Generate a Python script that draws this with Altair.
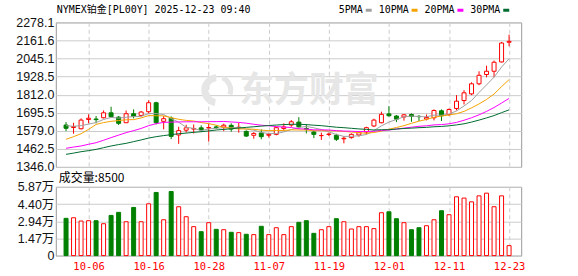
import json
import altair as alt
import pandas as pd
import numpy as np

# ---------------- data ----------------
dates = [d.strftime("%m-%d") for d in pd.bdate_range("2025-10-01", "2025-12-23")]

opens = [1616, 1600, 1592, 1652, 1655, 1663, 1695, 1667, 1631, 1689,
         1678, 1702, 1760, 1640, 1660, 1552, 1583, 1590, 1598, 1597,
         1604, 1603, 1614, 1598, 1575, 1550, 1565, 1550, 1556, 1594,
         1616, 1635, 1594, 1571, 1548, 1555, 1550, 1527, 1535, 1552,
         1571, 1610, 1631, 1688, 1674, 1668, 1684, 1672, 1655, 1663,
         1708, 1684, 1723, 1774, 1817, 1882, 1942, 1963, 2023, 2150]
highs = [1635, 1631, 1659, 1685, 1674, 1710, 1734, 1674, 1710, 1717,
         1706, 1775, 1766, 1674, 1672, 1605, 1618, 1620, 1614, 1625,
         1614, 1625, 1627, 1631, 1582, 1570, 1588, 1567, 1605, 1627,
         1648, 1667, 1620, 1582, 1567, 1567, 1560, 1545, 1562, 1577,
         1605, 1657, 1702, 1738, 1680, 1687, 1691, 1680, 1684, 1717,
         1717, 1723, 1809, 1841, 1892, 1963, 1999, 2032, 2152, 2199]
lows = [1577, 1560, 1588, 1627, 1627, 1659, 1663, 1616, 1629, 1659,
        1670, 1689, 1620, 1588, 1525, 1495, 1567, 1562, 1571, 1510,
        1590, 1577, 1573, 1567, 1539, 1528, 1524, 1535, 1550, 1580,
        1605, 1592, 1562, 1532, 1520, 1545, 1513, 1498, 1528, 1541,
        1556, 1603, 1627, 1670, 1635, 1644, 1637, 1642, 1646, 1646,
        1642, 1674, 1710, 1749, 1809, 1873, 1924, 1924, 2020, 2124]
closes = [1595, 1606, 1648, 1660, 1651, 1695, 1670, 1627, 1689, 1672,
          1700, 1760, 1631, 1657, 1543, 1580, 1598, 1594, 1584, 1600,
          1600, 1615, 1590, 1602, 1545, 1562, 1541, 1556, 1599, 1604,
          1637, 1605, 1589, 1556, 1548, 1558, 1524, 1531, 1556, 1567,
          1599, 1648, 1685, 1676, 1654, 1682, 1672, 1670, 1665, 1710,
          1676, 1716, 1770, 1824, 1882, 1937, 1963, 2021, 2145, 2156]
volumes = [31800, 32300, 29500, 29800, 29800, 27200, 34300, 36900, 28900, 41100,
           28900, 44200, 53900, 30600, 54700, 41700, 33200, 24700, 20400, 28100,
           22400, 22100, 19900, 19600, 18200, 17900, 25000, 17900, 23800, 17900,
           24700, 28400, 29800, 19000, 22100, 24700, 31500, 28900, 22700, 24700,
           24700, 23000, 36600, 37400, 31500, 28100, 22100, 23800, 25500, 30600,
           38300, 34900, 50200, 49100, 45900, 51000, 53300, 41700, 51000, 8500]

ma5 = [1612, 1608, 1612, 1622, 1632, 1652, 1665, 1661, 1666, 1671,
       1672, 1690, 1690, 1684, 1658, 1634, 1602, 1594, 1580, 1591,
       1595, 1599, 1598, 1601, 1590, 1583, 1568, 1561, 1561, 1572,
       1587, 1600, 1607, 1598, 1587, 1571, 1555, 1543, 1543, 1547,
       1555, 1580, 1611, 1635, 1652, 1669, 1674, 1671, 1669, 1680,
       1679, 1687, 1707, 1739, 1774, 1826, 1875, 1925, 1990, 2044]
ma10 = [1524, 1541, 1560, 1588, 1620, 1632, 1640, 1645, 1650, 1651,
        1662, 1677, 1676, 1675, 1664, 1653, 1646, 1642, 1632, 1625,
        1615, 1600, 1596, 1591, 1591, 1589, 1583, 1580, 1581, 1581,
        1585, 1584, 1584, 1579, 1580, 1579, 1578, 1575, 1571, 1567,
        1563, 1568, 1577, 1589, 1600, 1612, 1627, 1641, 1652, 1666,
        1674, 1681, 1689, 1704, 1727, 1752, 1781, 1816, 1864, 1909]
ma20 = [1466, 1474, 1481, 1492, 1502, 1518, 1535, 1551, 1567, 1580,
        1594, 1612, 1625, 1633, 1635, 1636, 1637, 1637, 1637, 1638,
        1638, 1639, 1636, 1633, 1628, 1621, 1615, 1611, 1606, 1603,
        1600, 1592, 1590, 1585, 1585, 1584, 1580, 1577, 1576, 1574,
        1574, 1576, 1581, 1584, 1590, 1596, 1602, 1608, 1611, 1617,
        1619, 1624, 1633, 1647, 1663, 1682, 1704, 1729, 1758, 1788]
ma30 = [1427, 1435, 1444, 1451, 1459, 1470, 1481, 1490, 1498, 1509,
        1520, 1532, 1541, 1548, 1554, 1560, 1564, 1569, 1573, 1578,
        1584, 1588, 1592, 1597, 1601, 1605, 1609, 1613, 1616, 1619,
        1621, 1621, 1619, 1615, 1612, 1607, 1602, 1599, 1595, 1591,
        1588, 1584, 1586, 1586, 1590, 1594, 1596, 1599, 1601, 1605,
        1607, 1611, 1617, 1624, 1635, 1648, 1662, 1677, 1696, 1714]

ma_names = ["5PMA", "10PMA", "20PMA", "30PMA"]
ma_colors = ["#a0a0a0", "#f5a300", "#ff00ff", "#006b30"]

price_ticks = [1346.0, 1462.5, 1579.0, 1695.5, 1812.0, 1928.5, 2045.1, 2161.6, 2278.1]
vol_ticks = [0, 14675, 29350, 44025, 58700]
vol_tick_labels = ["0", "1.47万", "2.94万", "4.40万", "5.87万"]
date_ticks = ["10-06", "10-16", "10-28", "11-07", "11-19", "12-01", "12-11", "12-23"]
title_text = "NYMEX铂金[PL00Y] 2025-12-23 09:40"
watermark = "东方财富"
vol_title = "成交量:" + str(volumes[-1])

# ---------------- tables ----------------
df = pd.DataFrame({"i": list(range(len(dates))), "date": dates, "open": opens,
                   "high": highs, "low": lows, "close": closes, "vol": volumes})
df["dir"] = np.where(df["close"] >= df["open"], "up", "down")

ma_df = pd.concat([pd.DataFrame({"i": list(range(len(dates))), "value": v, "name": n})
                   for n, v in zip(ma_names, [ma5, ma10, ma20, ma30])])

# ---------------- styles ----------------
W, H_MAIN, H_VOL, GAP = 467, 145, 69, 20
GRID = "#cccccc"
WM = "#e6e6e6"
MONO = "DejaVu Sans Mono, Noto Sans CJK SC"
SANS = "Liberation Sans, Noto Sans CJK SC"

X_SCALE = alt.Scale(domain=[-0.7, len(dates) - 0.05], nice=False, zero=False)
grid_idx = [dates.index(d) for d in date_ticks]
date_expr = json.dumps(dates) + "[datum.value]"

main_x_axis = alt.Axis(values=grid_idx, labels=False, ticks=False, domain=False,
                       grid=True, gridDash=[4, 3], gridColor=GRID, title=None)
vol_x_axis = alt.Axis(values=grid_idx, labelExpr=date_expr, labelColor="#ff0000",
                      labelFont=MONO, labelFontSize=10.5, ticks=False, tickSize=0,
                      domain=False, grid=True, gridDash=[4, 3], gridColor=GRID,
                      labelPadding=6, labelFlush=False, labelOverlap=False, title=None)

P_SCALE = alt.Scale(domain=[price_ticks[0], price_ticks[-1]], nice=False, zero=False)
price_axis = alt.Axis(values=price_ticks, format=".1f", ticks=False, tickSize=0,
                      domain=False, grid=True, gridColor=GRID, labelPadding=2,
                      labelFlush=False, labelOverlap=False, title=None)
V_SCALE = alt.Scale(domain=[vol_ticks[0], vol_ticks[-1]], nice=False, zero=True)
vol_expr = json.dumps(vol_tick_labels, ensure_ascii=False) + "[indexof(" + json.dumps(vol_ticks) + ", datum.value)]"
vol_axis = alt.Axis(values=vol_ticks, labelExpr=vol_expr, ticks=False, tickSize=0,
                    domain=False, grid=True, gridColor=GRID, labelPadding=2,
                    labelFlush=False, labelOverlap=False, title=None, labelFont=SANS)

FILL = alt.Fill("dir:N", scale=alt.Scale(domain=["up", "down"], range=["#ffffff", "#008000"]), legend=None)
STROKE = alt.Stroke("dir:N", scale=alt.Scale(domain=["up", "down"], range=["#ff0000", "#008000"]), legend=None)


def one(v):
    return pd.DataFrame({"t": [v]})


def corner(x, y):
    return alt.Chart(one(0)).mark_rect(color="white").encode(
        x=alt.value(x), x2=alt.value(x + 1), y=alt.value(y), y2=alt.value(y + 1))


# ---------------- main panel ----------------
wm = alt.Chart(one(watermark)).mark_text(
    font="Noto Sans CJK SC", fontSize=35, fontWeight="bold", color=WM,
    align="center", baseline="middle").encode(x=alt.value(254), y=alt.value(69), text="t:N")

# simple stand-in for the logo next to the watermark text
logo_a = alt.Chart(one(0)).mark_arc(color=WM, radius=16, radius2=9).encode(
    x=alt.value(162), y=alt.value(68), theta=alt.value(3.3), theta2=alt.value(6.2))
logo_b = alt.Chart(one(0)).mark_arc(color=WM, radius=16, radius2=11).encode(
    x=alt.value(162), y=alt.value(68), theta=alt.value(0.4), theta2=alt.value(1.9))

wick = alt.Chart(df).mark_rule(strokeWidth=1).encode(
    x=alt.X("i:Q", scale=X_SCALE, axis=main_x_axis),
    y=alt.Y("low:Q", scale=P_SCALE, axis=price_axis),
    y2="high:Q", stroke=STROKE)

body = alt.Chart(df).mark_bar(size=4, strokeWidth=1).encode(
    x=alt.X("i:Q", scale=X_SCALE, axis=main_x_axis),
    y=alt.Y("open:Q", scale=P_SCALE, axis=price_axis),
    y2="close:Q", fill=FILL, stroke=STROKE)

lines = alt.Chart(ma_df).mark_line(strokeWidth=1).encode(
    x=alt.X("i:Q", scale=X_SCALE, axis=main_x_axis),
    y=alt.Y("value:Q", scale=P_SCALE, axis=price_axis),
    color=alt.Color("name:N", scale=alt.Scale(domain=ma_names, range=ma_colors), legend=None),
    detail="name:N")

title = alt.Chart(one(title_text)).mark_text(
    font=MONO, fontSize=10, color="#000000", align="left", baseline="middle").encode(
    x=alt.value(1), y=alt.value(-12.5), text="t:N")

legend_layers = []
lx = 284
for name, col in zip(ma_names, ma_colors):
    legend_layers.append(alt.Chart(one(name)).mark_text(
        font=MONO, fontSize=10, color="#000000", align="left", baseline="middle").encode(
        x=alt.value(lx), y=alt.value(-12.5), text="t:N"))
    sx = lx + 6 * len(name) + 3
    legend_layers.append(alt.Chart(one(name)).mark_rect(color=col).encode(
        x=alt.value(sx), x2=alt.value(sx + 6), y=alt.value(-13.7), y2=alt.value(-10.7)))
    lx = sx + 6 + 7

main = alt.layer(logo_a, logo_b, wm, wick, body, lines, title, *legend_layers,
                 corner(-55, -21)).properties(width=W, height=H_MAIN)

# ---------------- volume panel ----------------
vbars = alt.Chart(df).mark_bar(size=4, strokeWidth=1).encode(
    x=alt.X("i:Q", scale=X_SCALE, axis=vol_x_axis),
    y=alt.Y("vol:Q", scale=V_SCALE, axis=vol_axis),
    fill=FILL, stroke=STROKE)

vtitle = alt.Chart(one(vol_title)).mark_text(
    font="Noto Sans CJK SC", fontSize=12, color="#000000", align="left", baseline="middle").encode(
    x=alt.value(3), y=alt.value(-8.5), text="t:N")

vol = alt.layer(vbars, vtitle, corner(W + 55, 276 - 21 - H_MAIN - GAP - 1)).properties(
    width=W, height=H_VOL)

chart = alt.vconcat(main, vol, spacing=GAP, bounds="flush").properties(
    padding=0, background="white").configure_view(
    stroke="#999999", strokeWidth=1).configure_axis(
    labelFont=SANS, labelFontSize=12.5, labelColor="#111111")

chart.save("out.html", embed_options={"renderer": "svg", "actions": False})
